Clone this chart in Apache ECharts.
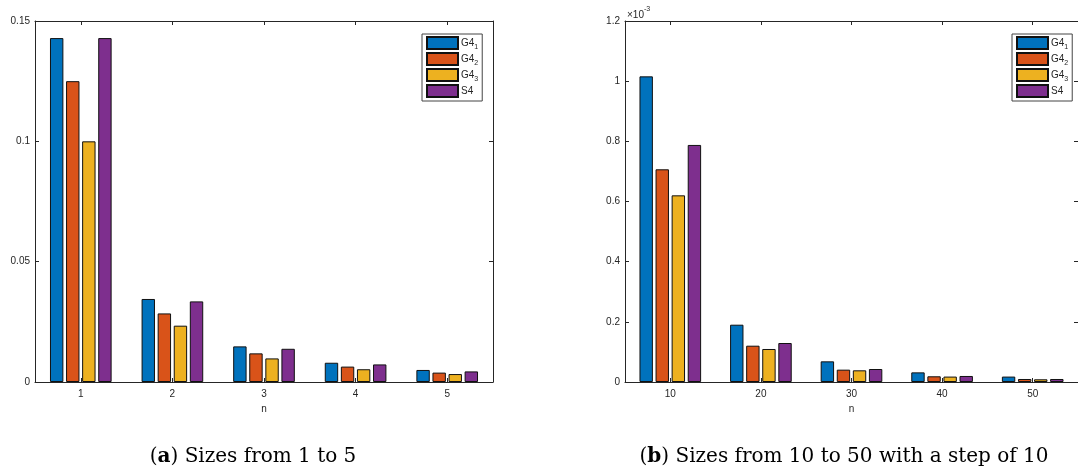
<!DOCTYPE html>
<html>
<head>
<meta charset="utf-8">
<script src="https://cdn.jsdelivr.net/npm/echarts@6/dist/echarts.min.js"></script>
<style>
html,body{margin:0;padding:0;background:#fff;}
#chart{width:1078px;height:472px;}
</style>
</head>
<body>
<div id="chart"></div>
<script>
// ---- data ----
const seriesNames = ['G4_1', 'G4_2', 'G4_3', 'S4'];
const categoriesA = ['1', '2', '3', '4', '5'];
const g41A = [0.1429, 0.0345, 0.0148, 0.0080, 0.0050];
const g42A = [0.1250, 0.0285, 0.0119, 0.0064, 0.0039];
const g43A = [0.1000, 0.0234, 0.0098, 0.0053, 0.0033];
const s4A  = [0.1429, 0.0335, 0.0138, 0.0073, 0.0044];
const yTicksA = { min: 0, max: 0.15, interval: 0.05 };

const categoriesB = ['10', '20', '30', '40', '50'];
// values in units of 1e-3
const g41B = [1.016, 0.1905, 0.0687, 0.032, 0.018];
const g42B = [0.707, 0.1207, 0.041, 0.019, 0.010];
const g43B = [0.6205, 0.1097, 0.0388, 0.018, 0.009];
const s4B  = [0.788, 0.1296, 0.0432, 0.020, 0.010];
const yTicksB = { min: 0, max: 1.2, interval: 0.2 };

const captionA = ['a', ' Sizes from 1 to 5'];
const captionB = ['b', ' Sizes from 10 to 50 with a step of 10'];

// ---- styling ----
const colors = ['#0072BD', '#D95319', '#EDB120', '#7E2F8E'];
const axisColor = '#262626';
const font = 'Liberation Sans';
const chart = echarts.init(document.getElementById('chart'));

function bottomX(idx, cats) {
  return {
    type: 'category', gridIndex: idx, data: cats, position: 'bottom',
    name: 'n', nameLocation: 'middle', nameGap: 21,
    nameTextStyle: { color: axisColor, fontSize: 10, fontFamily: font },
    axisLine: { show: true, lineStyle: { color: axisColor, width: 1 } },
    axisTick: { show: true, inside: true, alignWithLabel: true, length: 4, lineStyle: { color: axisColor } },
    axisLabel: { color: axisColor, fontSize: 10, fontFamily: font, margin: 7 },
    splitLine: { show: false }
  };
}
function topX(idx, cats) {
  return {
    type: 'category', gridIndex: idx, data: cats, position: 'top',
    axisLine: { show: true, onZero: false, lineStyle: { color: axisColor, width: 1 } },
    axisTick: { show: true, inside: true, alignWithLabel: true, length: 4, lineStyle: { color: axisColor } },
    axisLabel: { show: false }, splitLine: { show: false }
  };
}
function leftY(idx, t, extra) {
  return Object.assign({
    type: 'value', gridIndex: idx, position: 'left', min: t.min, max: t.max, interval: t.interval,
    axisLine: { show: true, lineStyle: { color: axisColor, width: 1 } },
    axisTick: { show: true, inside: true, length: 4, lineStyle: { color: axisColor } },
    axisLabel: { color: axisColor, fontSize: 10, fontFamily: font, margin: 5 },
    splitLine: { show: false }
  }, extra || {});
}
function rightY(idx, t) {
  return {
    type: 'value', gridIndex: idx, position: 'right', min: t.min, max: t.max, interval: t.interval,
    axisLine: { show: true, onZero: false, lineStyle: { color: axisColor, width: 1 } },
    axisTick: { show: true, inside: true, length: 4, lineStyle: { color: axisColor } },
    axisLabel: { show: false }, splitLine: { show: false }
  };
}
function barSeries(name, data, color, gi) {
  return {
    type: 'bar', name: name, data: data, xAxisIndex: gi * 2, yAxisIndex: gi * 2,
    barWidth: 13.4, barGap: '20%',
    itemStyle: { color: color, borderColor: '#111', borderWidth: 1 },
    emphasis: { disabled: true }, animation: false
  };
}
const legendRich = {
  b: { fontSize: 10, fontFamily: font, color: axisColor, lineHeight: 10, verticalAlign: 'top', padding: [0, 0, 3, 0] },
  s: { fontSize: 7, fontFamily: font, color: axisColor, lineHeight: 6, verticalAlign: 'top', padding: [6, 0, 0, 0] }
};
function legendFmt(name) {
  const p = name.split('_');
  return p.length > 1 ? '{b|' + p[0] + '}{s|' + p[1] + '}' : '{b|' + p[0] + '}';
}
function legend(left) {
  return {
    data: seriesNames, orient: 'vertical', left: left, top: 34,
    itemWidth: 31, itemHeight: 12, itemGap: 1, icon: 'rect',
    padding: [2, 4, 2, 4], borderColor: '#444', borderWidth: 1, backgroundColor: '#fff',
    borderRadius: 0, selectedMode: false,
    formatter: legendFmt,
    textStyle: { fontSize: 10, fontFamily: font, color: axisColor, lineHeight: 10, padding: [0, 0, 0, -2], rich: legendRich }
  };
}

const allA = [g41A, g42A, g43A, s4A];
const allB = [g41B, g42B, g43B, s4B];
const series = [];
seriesNames.forEach((n, i) => series.push(barSeries(n, allA[i], colors[i], 0)));
seriesNames.forEach((n, i) => series.push(barSeries(n, allB[i], colors[i], 1)));

const captionRich = {
  b: { fontFamily: 'DejaVu Serif', fontSize: 20, fontWeight: 'bold', fill: '#000' },
  r: { fontFamily: 'DejaVu Serif', fontSize: 20, fill: '#000' }
};

const option = {
  animation: false,
  backgroundColor: '#fff',
  grid: [
    { left: 35, top: 21, width: 458, height: 361 },
    { left: 625, top: 21, width: 456, height: 361 }
  ],
  xAxis: [bottomX(0, categoriesA), topX(0, categoriesA), bottomX(1, categoriesB), topX(1, categoriesB)],
  yAxis: [
    leftY(0, yTicksA), rightY(0, yTicksA),
    leftY(1, yTicksB, {
      name: '{n|×10}{p|-3}', nameLocation: 'end', nameGap: 1,
      nameTextStyle: {
        align: 'left', padding: [0, 0, 0, 2],
        rich: {
          n: { fontSize: 10, fontFamily: font, color: axisColor, verticalAlign: 'bottom', padding: [4, 0, 0, 0] },
          p: { fontSize: 7, fontFamily: font, color: axisColor, verticalAlign: 'top' }
        }
      }
    }),
    rightY(1, yTicksB)
  ],
  legend: [legend(422), legend(1012)],
  series: series,
  graphic: [
    {
      type: 'text', z: 10,
      style: {
        x: 253, y: 457, align: 'center', verticalAlign: 'middle',
        text: '({b|' + captionA[0] + '}){r|' + captionA[1] + '}',
        rich: captionRich, fontFamily: 'DejaVu Serif', fontSize: 20, fill: '#000'
      }
    },
    {
      type: 'text', z: 10,
      style: {
        x: 844, y: 457, align: 'center', verticalAlign: 'middle',
        text: '({b|' + captionB[0] + '}){r|' + captionB[1] + '}',
        rich: captionRich, fontFamily: 'DejaVu Serif', fontSize: 20, fill: '#000'
      }
    }
  ]
};
chart.setOption(option);
</script>
</body>
</html>
